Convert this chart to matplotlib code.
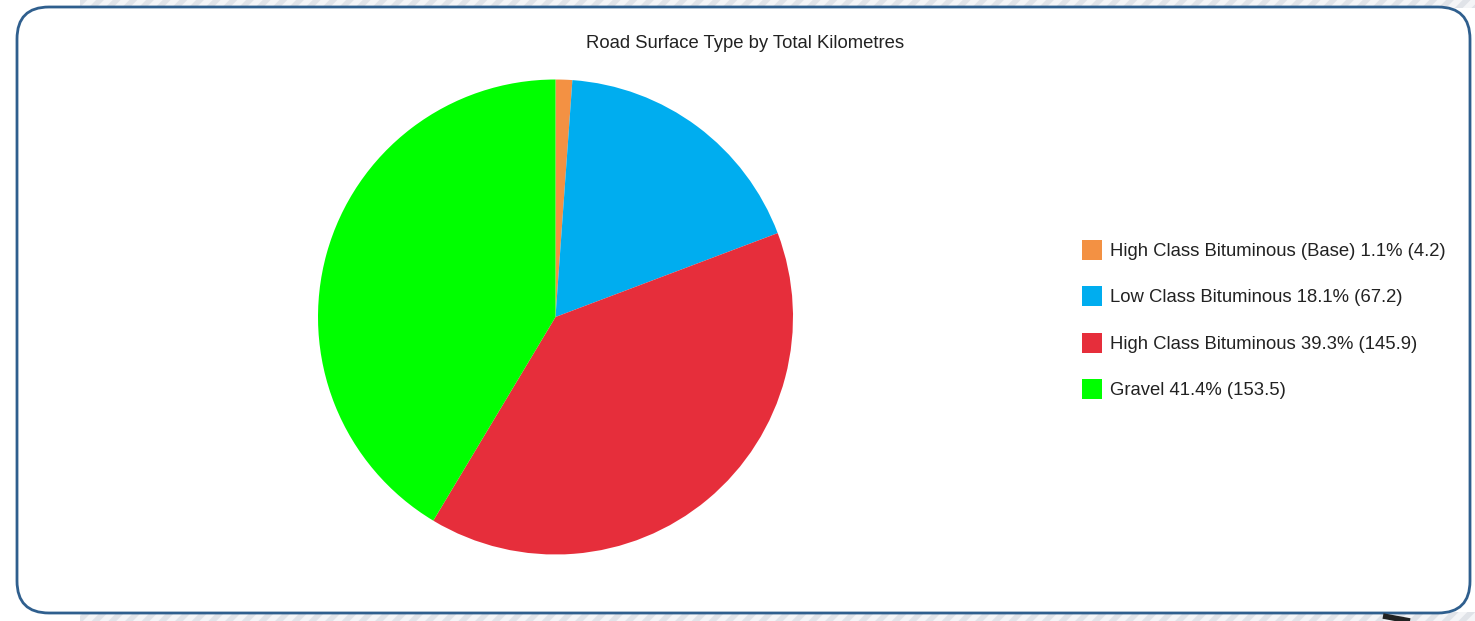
import matplotlib.pyplot as plt
from matplotlib.patches import FancyBboxPatch, Rectangle

W, H = 1475, 621

surface_types = [
    "High Class Bituminous (Base)",
    "Low Class Bituminous",
    "High Class Bituminous",
    "Gravel",
]
kilometres = [4.2, 67.2, 145.9, 153.5]
colours = ["#f39143", "#00adef", "#e62e3b", "#00ff00"]

plt.rcParams["font.family"] = ["Liberation Sans", "DejaVu Sans"]

fig = plt.figure(figsize=(W / 100, H / 100), dpi=100)

# pixel-space background layer
bg = fig.add_axes([0, 0, 1, 1], zorder=0)
bg.set_xlim(0, W)
bg.set_ylim(H, 0)
bg.axis("off")

plt.rcParams["hatch.linewidth"] = 4
for y0, h in [(0, 8), (612, 9)]:
    bg.add_patch(Rectangle((80, y0), W - 80, h, facecolor="#f4f5f7",
                           edgecolor="#e0e3e8", hatch="//", lw=0))

bg.add_patch(FancyBboxPatch((17, 7), 1453, 606,
                            boxstyle="round,pad=0,rounding_size=32",
                            facecolor="white", edgecolor="#2f5f8e", lw=2))
bg.plot([1383, 1410], [616, 621], color="#222222", lw=4, solid_capstyle="butt")

# pie
cx, cy, r = 555.5, 317, 237.5
ax = fig.add_axes([(cx - r) / W, (H - cy - r) / H, 2 * r / W, 2 * r / H], zorder=1)
wedges, _ = ax.pie(kilometres, colors=colours, startangle=90, counterclock=False,
                   wedgeprops=dict(linewidth=0))
ax.set_xlim(-1, 1)
ax.set_ylim(-1, 1)
ax.set_aspect("equal")

fig.text(745 / W, 1 - 43 / H, "Road Surface Type by Total Kilometres",
         ha="center", va="center", fontsize=13.3, color="#222222")

total = sum(kilometres)
labels = [f"{n} {v / total * 100:.1f}% ({v})" for n, v in zip(surface_types, kilometres)]
fig.legend(wedges, labels, loc="upper left", bbox_to_anchor=(1065 / W, 1 - 223 / H),
           frameon=False, fontsize=13.3, handlelength=1.1, handleheight=1.3,
           handletextpad=0.45, labelspacing=1.42, labelcolor="#222222")

fig.savefig("out.png", dpi=100)
